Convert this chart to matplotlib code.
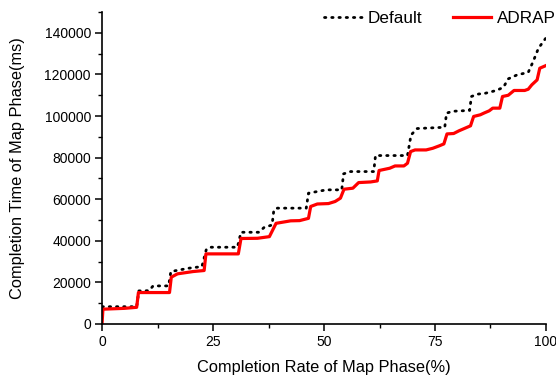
import matplotlib
matplotlib.use('Agg')
import matplotlib.pyplot as plt
from matplotlib.ticker import MultipleLocator

plt.rcParams['font.family'] = ['Liberation Sans', 'DejaVu Sans']

# Completion rate (%) and completion time (ms)
default_x = [0, 7.8, 8.3, 10.6, 11.5, 15.0, 15.5, 19.5, 22.5, 23.5, 24.5, 30.5,
             31.3, 35.3, 36.5, 38.3, 38.7, 39.5, 46.0, 46.5, 48.0, 50.5, 54.0,
             54.4, 56.0, 61.2, 61.6, 68.8, 69.6, 71.0, 77.2, 77.6, 79.0, 82.8,
             83.2, 84.5, 86.4, 88.8, 90.4, 91.5, 93.5, 96.0, 97.1, 98.3, 99.9]
default_y = [8300, 8300, 15900, 16000, 18300, 18300, 25200, 26800, 27600, 35900,
             36900, 36900, 44100, 44100, 46400, 47600, 54800, 55700, 55700,
             62900, 63500, 64500, 64500, 72200, 73300, 73300, 81000, 81000,
             90900, 94000, 94600, 101400, 102300, 102700, 109400, 110500,
             111000, 112300, 113800, 117900, 119800, 121000, 126200, 132600,
             137300]

adrap_x = [0, 0.2, 5.0, 7.8, 8.2, 15.2, 15.6, 17.0, 20.5, 23.0, 23.4, 30.7,
           31.3, 35.0, 37.7, 39.2, 42.5, 44.5, 46.5, 47.0, 48.5, 51.0, 52.5,
           53.7, 54.5, 56.5, 57.8, 60.5, 62.0, 62.4, 64.8, 66.0, 68.0, 68.8,
           69.5, 70.5, 73.0, 74.5, 76.0, 77.0, 77.7, 79.2, 80.4, 81.6, 83.0,
           83.7, 85.2, 86.0, 87.2, 88.0, 89.6, 90.2, 91.5, 92.8, 95.2, 96.0,
           96.8, 98.0, 98.6, 100]
adrap_y = [0, 7100, 7500, 8000, 15100, 15100, 22500, 24100, 25200, 25700,
           33700, 33700, 41100, 41200, 42000, 48400, 49600, 49700, 50800,
           56500, 57700, 57900, 58900, 60500, 64800, 65300, 68000, 68300,
           68800, 73800, 74900, 76000, 76000, 77300, 82900, 83700, 83700,
           84500, 85700, 86600, 91400, 91600, 92900, 94000, 95300, 99800,
           100600, 101400, 102500, 103800, 103800, 109400, 110000, 112300,
           112300, 112900, 115000, 117400, 123000, 124300]

fig = plt.figure(figsize=(5.56, 3.78), dpi=100)
ax = fig.add_axes([0.1835, 0.143, 0.7985, 0.825])

ax.plot(default_x, default_y, color='black', lw=2.0, linestyle=(0, (0.5, 2.1)),
        dash_capstyle='round', label='Default')
ax.plot(adrap_x, adrap_y, color='#ff0000', lw=2.3, label='ADRAP')

ax.set_xlim(0, 100)
ax.set_ylim(0, 150000)
ax.xaxis.set_major_locator(MultipleLocator(25))
ax.xaxis.set_minor_locator(MultipleLocator(12.5))
ax.set_yticks([0, 20000, 40000, 60000, 80000, 100000, 120000, 140000])
ax.set_yticks(range(10000, 150001, 20000), minor=True)

for s in ['top', 'right']:
    ax.spines[s].set_visible(False)
for s in ['left', 'bottom']:
    ax.spines[s].set_linewidth(1.2)

ax.tick_params(which='major', direction='out', length=5, width=1.1, labelsize=10, pad=3)
ax.tick_params(which='minor', direction='out', length=3, width=1.0)

ax.set_xlabel('Completion Rate of Map Phase(%)', fontsize=11.8, labelpad=8)
ax.set_ylabel('Completion Time of Map Phase(ms)', fontsize=11.8, labelpad=14)

fig.legend(loc='upper right', bbox_to_anchor=(1.027, 1.012), ncol=2, frameon=False,
           fontsize=12.3, handlelength=2.2, columnspacing=1.8, handletextpad=0.35)

fig.savefig('out.png', dpi=100)
